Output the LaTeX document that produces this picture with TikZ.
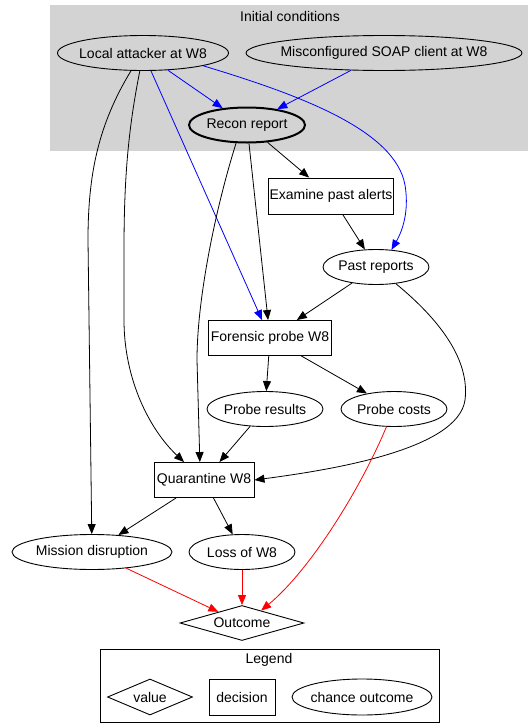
\documentclass[tikz,border=0pt]{standalone}
\usepackage{fontspec}
\setmainfont{Liberation Sans}
\usetikzlibrary{shapes.geometric, arrows.meta}
\definecolor{clustergray}{RGB}{211,211,211}

\begin{document}
\begin{tikzpicture}[x=1pt, y=-1pt,
    font=\fontsize{14}{17}\selectfont,
    chance/.style={draw, ellipse, line width=0.9pt, inner xsep=-130pt, inner ysep=-12pt, minimum height=35pt},
    decision/.style={draw, rectangle, line width=0.9pt, inner sep=0pt, minimum height=35pt},
    value/.style={draw, diamond, line width=0.9pt, inner xsep=-80pt, inner ysep=-20pt, minimum height=35pt},
    edge/.style={-{Triangle[length=10pt, width=8pt]}, line width=0.8pt}]
    \useasboundingbox (0,0) rectangle (528,723);

    % Initial conditions
    \fill[clustergray] (50,5) rectangle (528,151);
    \node (cluster) at (290,16) {Initial conditions};
    \node[chance, minimum width=171pt] (loc) at (143,53) {Local attacker at W8};
    \node[chance, minimum width=276pt] (soap) at (384,53) {Misconfigured SOAP client at W8};
    \node[chance, minimum width=116pt, line width=2pt] (recon) at (247,125) {Recon report};

    \node[decision, minimum width=125pt, minimum height=36pt] (exam) at (331,196) {Examine past alerts};
    \node[chance, minimum width=106pt] (past) at (376,267) {Past reports};
    \node[decision, minimum width=123pt] (probe) at (270,338) {Forensic probe W8};
    \node[chance, minimum width=116pt] (res) at (265,409) {Probe results};
    \node[chance, minimum width=106pt] (cost) at (394,409) {Probe costs};
    \node[decision, minimum width=100pt] (quar) at (204,480) {Quarantine W8};
    \node[chance, minimum width=160pt] (miss) at (92,552) {Mission disruption};
    \node[chance, minimum width=106pt] (loss) at (242,552) {Loss of W8};
    \node[value, minimum width=124pt] (out) at (242,623) {Outcome};

    % blue: from the initial conditions
    \draw[edge, blue] (loc) -- (recon);
    \draw[edge, blue] (soap) -- (recon);
    \draw[edge, blue] (loc) -- (probe);
    \draw[edge, blue] (loc.-12) .. controls (300,95) and (395,130) .. (405,185)
        .. controls (410,215) and (400,235) .. (past.48);

    \draw[edge] (loc.-124) .. controls (98,125) and (88,175) .. (88,240) -- (miss);
    \draw[edge] (loc.-100) .. controls (128,130) and (124,180) .. (124,250) -- (124,320)
        .. controls (124,380) and (150,430) .. (quar.138);
    \draw[edge] (recon.-121) .. controls (215,210) and (197,300) .. (197,360) -- (quar.103);
    \draw[edge] (recon) -- (probe);
    \draw[edge] (recon) -- (exam);
    \draw[edge] (exam) -- (past);
    \draw[edge] (past) -- (probe);
    \draw[edge] (past.-40) .. controls (440,320) and (470,360) .. (465,400)
        .. controls (458,450) and (330,470) .. (quar.east);
    \draw[edge] (probe) -- (res);
    \draw[edge] (probe) -- (cost);
    \draw[edge] (res) -- (quar);
    \draw[edge] (quar) -- (miss);
    \draw[edge] (quar) -- (loss);

    % red: into the value node
    \draw[edge, red] (miss) -- (out);
    \draw[edge, red] (loss) -- (out);
    \draw[edge, red] (cost.-113) .. controls (360,490) and (310,570) .. (out.33);

    % Legend
    \draw[line width=0.9pt] (100,649) rectangle (439,722.5);
    \node (legend) at (269,660) {Legend};
    \node[value, minimum width=85pt, minimum height=36pt] (legval) at (150,697) {value};
    \node[decision, minimum width=66pt, minimum height=36pt] (legdec) at (242,697) {decision};
    \node[chance, minimum width=140pt, minimum height=36pt] (legchance) at (362,697) {chance outcome};
\end{tikzpicture}
\end{document}
